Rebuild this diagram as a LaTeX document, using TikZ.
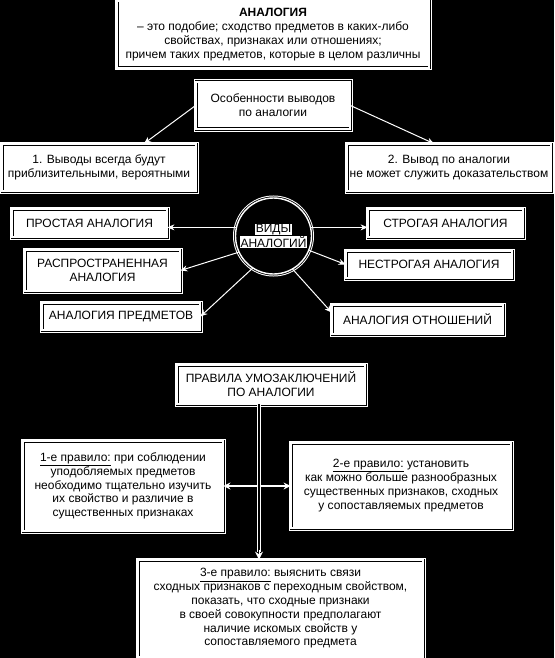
\documentclass[tikz,border=0pt]{standalone}
\usepackage{fontspec}
\setmainfont{Liberation Sans}
\usetikzlibrary{arrows.meta, calc}
\setlength{\fboxsep}{0.4pt}

\begin{document}
\begin{tikzpicture}[x=1pt, y=-1pt,
   every node/.style={font=\fontsize{12}{13.8}\selectfont, text=black},
   box/.style={draw=black, line width=0.8pt, double=white, double distance=1.4pt,
               fill=white, preaction={draw=white, line width=5pt},
               align=center, inner sep=2pt},
   circ/.style={circle, draw=black, line width=0.8pt, double=white,
               double distance=1.4pt, fill=black,
               preaction={draw=white, line width=5pt},
               align=center, inner sep=0pt},
   arr/.style={-{Stealth[length=7pt, width=6pt]}, white, line width=1pt},
   dbl/.style={draw=white, line width=0.9pt, double=black, double distance=2pt}]
  \useasboundingbox (0,0) rectangle (554,658);
  \fill[black] (0,0) rectangle (554,658);

  \node[box, minimum width=312, minimum height=67] (def) at (273,34.5)
       {\textbf{АНАЛОГИЯ}\\– это подобие; сходство предметов в каких-либо\\
        свойствах, признаках или отношениях;\\
        причем таких предметов, которые в целом различны};
  \node[box, minimum width=154, minimum height=47] (feat) at (273,105.5)
       {Особенности выводов\\по аналогии};
  \node[box, minimum width=194, minimum height=47] (res1) at (99,167.5)
       {1. Выводы всегда будут\\приблизительными, вероятными};
  \node[box, minimum width=204, minimum height=47] (res2) at (449,167.5)
       {2. Вывод по аналогии\\не может служить доказательством};

  \draw[arr] (feat.west) -- ([xshift=45pt]res1.north);
  \draw[arr] (feat.east) -- ([xshift=-15pt]res2.north);

  \node[circ, minimum size=76] (kinds) at (273.5,236)
       {\colorbox{white}{ВИДЫ}\\\colorbox{white}{АНАЛОГИЙ}};
  \node[box, minimum width=155, minimum height=28] (simple) at (89.5,223)
       {ПРОСТАЯ АНАЛОГИЯ};
  \node[box, minimum width=155, minimum height=28] (strict) at (445.5,223)
       {СТРОГАЯ АНАЛОГИЯ};
  \node[box, minimum width=155, minimum height=41] (wide) at (102.5,270.5)
       {РАСПРОСТРАНЕННАЯ\\АНАЛОГИЯ};
  \node[box, minimum width=166, minimum height=27] (loose) at (429,264.5)
       {НЕСТРОГАЯ АНАЛОГИЯ};
  \node[box, minimum width=158, minimum height=27] (objects) at (121,316.5)
       {АНАЛОГИЯ ПРЕДМЕТОВ};
  \node[box, minimum width=171, minimum height=29] (relations) at (417.5,319.5)
       {АНАЛОГИЯ ОТНОШЕНИЙ};

  \draw[arr] (kinds.167) -- (kinds.167 -| simple.east);
  \draw[arr] (kinds.13) -- (kinds.13 -| strict.west);
  \draw[arr] (kinds.205) -- (wide.east);
  \draw[arr] (kinds.338) -- (loose.west);
  \draw[arr] (kinds.237) -- (objects.east);
  \draw[arr] (kinds.300) -- ([yshift=7pt]relations.west);

  \node[box, minimum width=188, minimum height=39] (rules) at (271,384.5)
       {ПРАВИЛА УМОЗАКЛЮЧЕНИЙ\\ПО АНАЛОГИИ};
  \node[box, minimum width=200, minimum height=90] (rule1) at (123,486)
       {\underline{1-е правило:} при соблюдении\\уподобляемых предметов\\
        необходимо тщательно изучить\\их свойство и различие в\\
        существенных признаках};
  \node[box, minimum width=220, minimum height=85] (rule2) at (401,485.5)
       {\underline{2-е правило:} установить\\как можно больше разнообразных\\
        существенных признаков, сходных\\у сопоставляемых предметов};
  \node[box, minimum width=285, minimum height=97] (rule3) at (280.5,608.5)
       {\underline{3-е правило:} выяснить связи\\
        сходных признаков с переходным свойством,\\
        показать, что сходные признаки\\в своей совокупности предполагают\\
        наличие искомых свойств у\\сопоставляемого предмета};

  \coordinate (trunk) at (259,0);
  \draw[{Stealth[length=7pt, width=7pt]}-{Stealth[length=7pt, width=7pt]},
        white, line width=2pt] (rule1.east) -- (rule1.east -| rule2.west);
  \draw[dbl] (rules.south -| trunk) -- ($(rule3.north -| trunk)+(0,-8)$);
  \draw[-{Stealth[length=8pt, width=8pt]}, white, line width=1pt]
       ($(rule3.north -| trunk)+(0,-10)$) -- (rule3.north -| trunk);
\end{tikzpicture}
\end{document}
